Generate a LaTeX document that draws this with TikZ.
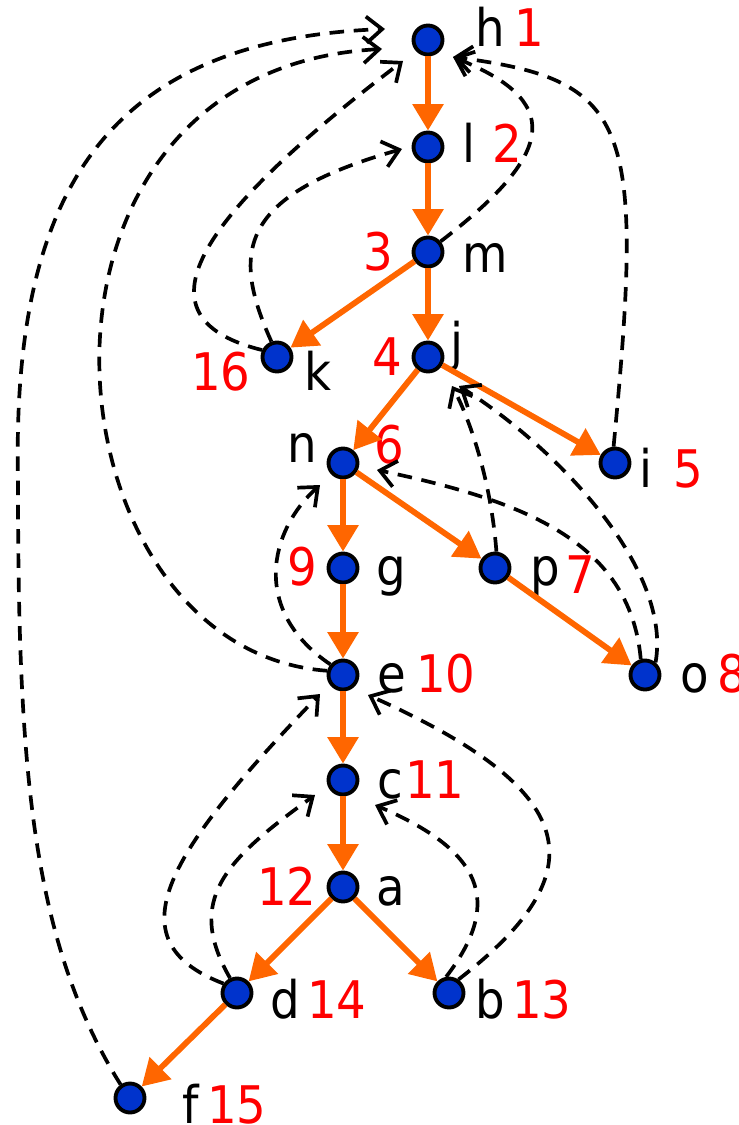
\documentclass[tikz,border=0pt]{standalone}
\usepackage{fontspec}
\setmainfont{DejaVu Sans Condensed}
\usetikzlibrary{arrows.meta}
\definecolor{treeorange}{RGB}{255,102,0}
\definecolor{vtxblue}{RGB}{0,51,204}

\begin{document}
\begin{tikzpicture}[x=0.02cm,y=-0.02cm,
    vtx/.style={circle,draw,fill=vtxblue,line width=2.2pt,minimum size=0.58cm,inner sep=0pt},
    lbl/.style={anchor=base,inner sep=0pt,font=\fontsize{29.5}{30}\selectfont},
    num/.style={lbl,text=red},
    tree/.style={draw=treeorange,line width=3.3pt,-{Triangle[length=15pt,width=17pt]}},
    back/.style={line width=2.1pt,dash pattern=on 8.3pt off 5.5pt,-{Straight Barb[length=9pt,width=15pt]}}]
  \useasboundingbox (0,0) rectangle (738,1125);
  \foreach \v/\x/\y in {h/428/40,l/428/147,m/428/252,k/277/357,j/428/357,n/343/463,i/615/463,
      g/343/568,p/495/568,e/343/675,o/645/675,c/343/780,a/343/887,d/237/993,b/449/993,f/130/1098}
    \node[vtx] (\v) at (\x,\y) {};
  \foreach \v/\x/\y in {h/490/47,l/469/163,m/485/272,k/318/390,j/457/360,n/302/462,i/646/487,
      g/391/585,p/545/585,e/392/692,o/695/692,c/390/798,a/391/905,d/285/1018,b/490/1018,f/191/1123}
    \node[lbl] (\v-lbl) at (\x,\y) {\v};
  \foreach \v/\k/\x/\y in {h/1/529/47,l/2/507/163,m/3/378/270,k/16/221/390,j/4/387/375,n/6/389/463,
      i/5/688/487,g/9/302/585,p/7/580/593,e/10/446/692,o/8/732/692,c/11/435/798,a/12/287/905,
      d/14/337/1018,b/13/542/1018,f/15/237/1123}
    \node[num] (\v-num) at (\x,\y) {\k};
  \foreach \u/\v in {h/l,l/m,m/k,m/j,j/n,j/i,n/g,n/p,g/e,p/o,e/c,c/a,a/d,a/b,d/f}
    \draw[tree] (\u) -- (\v);
  \draw[back] (f.125) .. controls (30,940) and (18,760) .. (18,480)
    .. controls (12,200) and (100,40) .. ([shift={(-43,-11)}]h.center);
  \draw[back] (e.165) .. controls (40,650) and (-10,70) .. ([shift={(-46,9)}]h.center);
  \draw[back] (k.155) .. controls (140,320) and (180,230) .. ([shift={(-25,21)}]h.center);
  \draw[back] (k.110) .. controls (230,250) and (240,195) .. ([shift={(-26,2)}]l.center);
  \draw[back] (m.40) .. controls (560,150) and (560,100) .. ([shift={(25,17)}]h.center);
  \draw[back] (i.95) .. controls (645,120) and (630,80) .. ([shift={(25,17)}]h.center);
  \draw[back] (p.85) .. controls (490,470) and (465,410) .. ([shift={(24,29)}]j.center);
  \draw[back] (o.50) .. controls (672,570) and (560,450) .. ([shift={(31,29)}]j.center);
  \draw[back] (o.105) .. controls (630,540) and (520,500) .. ([shift={(34,7)}]n.center);
  \draw[back] (e.140) .. controls (250,610) and (270,530) .. ([shift={(-23,22)}]n.center);
  \draw[back] (d.145) .. controls (110,940) and (170,850) .. ([shift={(-23,19)}]e.center);
  \draw[back] (d.115) .. controls (185,900) and (225,860) .. ([shift={(-28,15)}]c.center);
  \draw[back] (b.100) .. controls (505,900) and (480,850) .. ([shift={(32,25)}]c.center);
  \draw[back] (b.55) .. controls (600,870) and (580,790) .. ([shift={(25,20)}]e.center);
\end{tikzpicture}
\end{document}
